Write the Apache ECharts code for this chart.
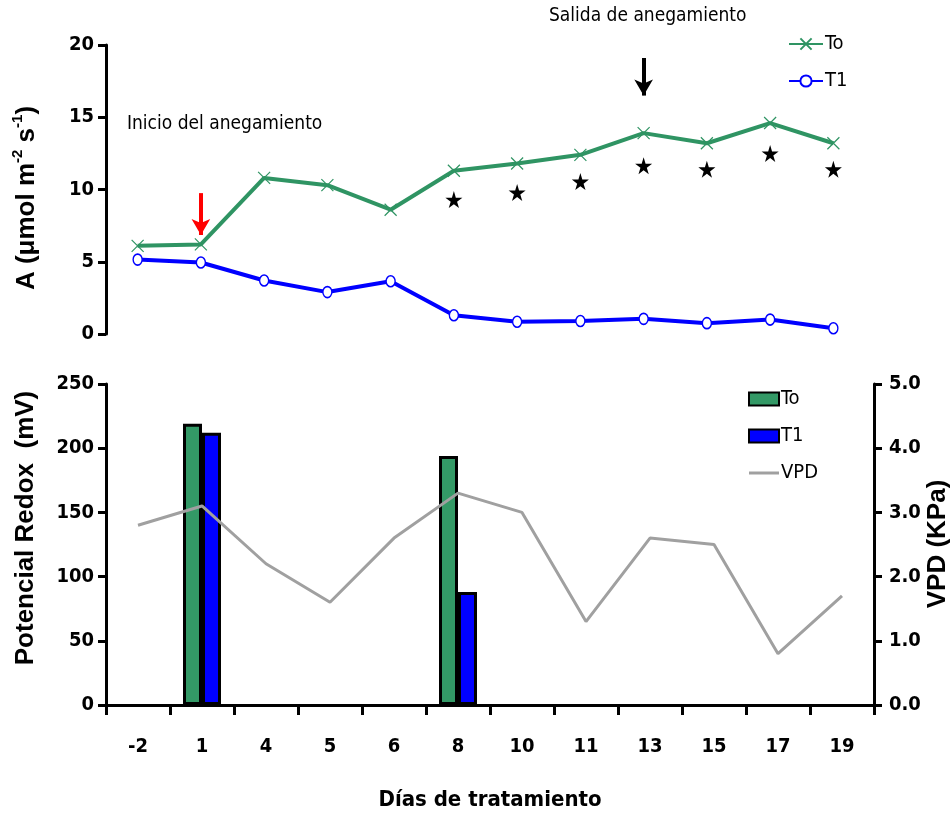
<!DOCTYPE html>
<html>
<head>
<meta charset="utf-8">
<script src="https://cdn.jsdelivr.net/npm/echarts@6/dist/echarts.min.js"></script>
<style>
  html, body { margin: 0; padding: 0; background: #ffffff; }
  #chart { width: 950px; height: 819px; }
</style>
</head>
<body>
<div id="chart"></div>
<script>
// Sampling days (days of treatment)
const days = ['-2', '1', '4', '5', '6', '8', '10', '11', '13', '15', '17', '19'];

// Net photosynthesis A (µmol m-2 s-1)
const photoTo = [6.1, 6.2, 10.8, 10.3, 8.6, 11.3, 11.8, 12.4, 13.9, 13.2, 14.6, 13.2];
const photoT1 = [5.15, 4.95, 3.7, 2.9, 3.65, 1.3, 0.85, 0.9, 1.05, 0.75, 1.0, 0.4];
// Significant differences To vs T1 (star markers)
const signifA = [null, null, null, null, null, 9.3, 9.8, 10.55, 11.65, 11.4, 12.5, 11.4];

// Soil redox potential (mV)
const redoxTo = [null, 219, null, null, null, 194, null, null, null, null, null, null];
const redoxT1 = [null, 212, null, null, null, 88, null, null, null, null, null, null];

// Vapour pressure deficit (KPa)
const vpd = [2.8, 3.1, 2.2, 1.6, 2.6, 3.3, 3.0, 1.3, 2.6, 2.5, 0.8, 1.7];

// Axis ranges [min, max, interval]
const aRange = [0, 20, 5];
const redoxRange = [0, 250, 50];
const vpdRange = [0, 5, 1];

const GREEN_LINE = '#2f9463';
const GREEN_BAR = '#339966';
const BLUE = '#0000ff';
const GREY = '#a0a0a0';
const NARROW = "'Liberation Sans Narrow', 'Arial Narrow', 'DejaVu Sans Condensed', sans-serif";
const WIDE = "'Liberation Sans', Arial, sans-serif";

const STAR = 'path://M50,0 L61,35 L98,35 L68,57 L79,91 L50,70 L21,91 L32,57 L2,35 L39,35 Z';
const CROSS = 'path://M0,0 L10,10 M10,0 L0,10';
// thin horizontal stroke, keeping a full-height bounding box for the legend slot
const LINE_ICON = 'path://M0,0 M0,5 L30,5 L30,8 L0,8 Z M0,13';

const axisLine = { show: true, lineStyle: { color: '#000', width: 3 } };
const axisTick = { show: true, inside: false, length: 8, lineStyle: { color: '#000', width: 3 } };
const tickFont = { color: '#000', fontFamily: NARROW, fontWeight: 'bold', fontSize: 20 };

const chart = echarts.init(document.getElementById('chart'), null, { renderer: 'canvas' });

chart.setOption({
  backgroundColor: '#ffffff',
  animation: false,
  grid: [
    { left: 106, top: 45, width: 759, height: 289 },
    { left: 106, top: 384, right: 76, height: 321 }
  ],
  xAxis: [
    {
      gridIndex: 0, type: 'category', data: days, boundaryGap: true,
      axisLine: { show: false }, axisTick: { show: false }, axisLabel: { show: false }, splitLine: { show: false }
    },
    {
      gridIndex: 1, type: 'category', data: days, boundaryGap: true,
      axisLine: axisLine,
      axisTick: { show: true, inside: false, length: 10, alignWithLabel: false, lineStyle: { color: '#000', width: 3 } },
      axisLabel: Object.assign({ margin: 32 }, tickFont),
      splitLine: { show: false },
      name: 'Días de tratamiento', nameLocation: 'middle', nameGap: 84,
      nameTextStyle: { color: '#000', fontFamily: NARROW, fontWeight: 'bold', fontSize: 22 }
    }
  ],
  yAxis: [
    {
      gridIndex: 0, type: 'value', min: aRange[0], max: aRange[1], interval: aRange[2],
      axisLine: axisLine, axisTick: axisTick,
      axisLabel: Object.assign({ margin: 12 }, tickFont),
      splitLine: { show: false }
    },
    {
      gridIndex: 1, type: 'value', min: redoxRange[0], max: redoxRange[1], interval: redoxRange[2],
      axisLine: axisLine, axisTick: axisTick,
      axisLabel: Object.assign({ margin: 12 }, tickFont),
      splitLine: { show: false }
    },
    {
      gridIndex: 1, type: 'value', position: 'right', min: vpdRange[0], max: vpdRange[1], interval: vpdRange[2],
      axisLine: axisLine, axisTick: axisTick,
      axisLabel: Object.assign({ margin: 15, formatter: v => v.toFixed(1) }, tickFont),
      splitLine: { show: false }
    }
  ],
  legend: [
    {
      left: 783, top: 29, orient: 'vertical', itemWidth: 34, itemHeight: 14, itemGap: 17,
      data: ['To', 'T1'],
      textStyle: { color: '#000', fontFamily: NARROW, fontSize: 20, padding: [0, 0, 0, -3] }
    },
    {
      left: 743, top: 384, orient: 'vertical', itemWidth: 30, itemHeight: 13, itemGap: 17,
      data: [
        { name: 'Redox To', icon: 'rect' },
        { name: 'Redox T1', icon: 'rect' },
        { name: 'VPD', icon: LINE_ICON }
      ],
      formatter: n => n.replace('Redox ', ''),
      textStyle: { color: '#000', fontFamily: NARROW, fontSize: 20, padding: [0, 0, 0, -3] }
    }
  ],
  graphic: [
    {
      type: 'text', left: 127, top: 115,
      style: { text: 'Inicio del anegamiento', fill: '#000', font: '19px ' + NARROW }
    },
    {
      type: 'text', left: 549, top: 7,
      style: { text: 'Salida de anegamiento', fill: '#000', font: '19px ' + NARROW }
    },
    {
      type: 'text', x: 25, y: 198, rotation: Math.PI / 2,
      style: {
        text: '{a|A (μmol m}{s|-2}{a| s}{s|-1}{a|)}',
        align: 'center', verticalAlign: 'middle',
        rich: {
          a: { fontFamily: WIDE, fontWeight: 'bold', fontSize: 26, fill: '#000', lineHeight: 30, verticalAlign: 'bottom' },
          s: { fontFamily: WIDE, fontWeight: 'bold', fontSize: 15, fill: '#000', lineHeight: 30, verticalAlign: 'top' }
        }
      }
    },
    {
      type: 'text', x: 26, y: 528, rotation: Math.PI / 2,
      style: {
        text: 'Potencial Redox  (mV)', align: 'center', verticalAlign: 'middle',
        fill: '#000', font: 'bold 26px ' + WIDE
      }
    },
    {
      type: 'text', x: 938, y: 544, rotation: Math.PI / 2,
      style: {
        text: 'VPD (KPa)', align: 'center', verticalAlign: 'middle',
        fill: '#000', font: 'bold 26px ' + WIDE
      }
    }
  ],
  series: [
    {
      name: 'To', type: 'line', xAxisIndex: 0, yAxisIndex: 0, data: photoTo,
      symbol: CROSS, symbolSize: 12, showSymbol: true,
      lineStyle: { color: GREEN_LINE, width: 4 },
      itemStyle: { color: GREEN_LINE, borderColor: GREEN_LINE, borderWidth: 1.2 },
      markLine: {
        silent: true, symbol: ['none', 'arrow'], symbolSize: [14, 16],
        label: { show: false },
        data: [
          [
            { coord: ['1', 9.75], lineStyle: { color: '#ff0000', width: 4, type: 'solid' }, itemStyle: { color: '#ff0000' } },
            { coord: ['1', 6.85] }
          ],
          [
            { coord: ['13', 19.1], lineStyle: { color: '#000', width: 4, type: 'solid' }, itemStyle: { color: '#000' } },
            { coord: ['13', 16.5] }
          ]
        ]
      },
      z: 3
    },
    {
      name: 'T1', type: 'line', xAxisIndex: 0, yAxisIndex: 0, data: photoT1,
      symbol: 'circle', symbolSize: [9, 11], showSymbol: true,
      lineStyle: { color: BLUE, width: 4 },
      itemStyle: { color: '#fff', borderColor: BLUE, borderWidth: 1.5 },
      z: 3
    },
    {
      name: 'Significancia', type: 'scatter', xAxisIndex: 0, yAxisIndex: 0, data: signifA,
      symbol: STAR, symbolSize: 17,
      itemStyle: { color: '#000', opacity: 1 }
    },
    {
      name: 'Redox To', type: 'bar', xAxisIndex: 1, yAxisIndex: 1, data: redoxTo,
      barWidth: 19, barGap: '0%',
      itemStyle: { color: GREEN_BAR, borderColor: '#000', borderWidth: 3 }
    },
    {
      name: 'Redox T1', type: 'bar', xAxisIndex: 1, yAxisIndex: 1, data: redoxT1,
      barWidth: 19, barGap: '0%',
      itemStyle: { color: BLUE, borderColor: '#000', borderWidth: 3 }
    },
    {
      name: 'VPD', type: 'line', xAxisIndex: 1, yAxisIndex: 2, data: vpd,
      symbol: 'none', showSymbol: false,
      lineStyle: { color: GREY, width: 3 },
      itemStyle: { color: GREY },
      z: 4
    }
  ]
});
</script>
</body>
</html>
